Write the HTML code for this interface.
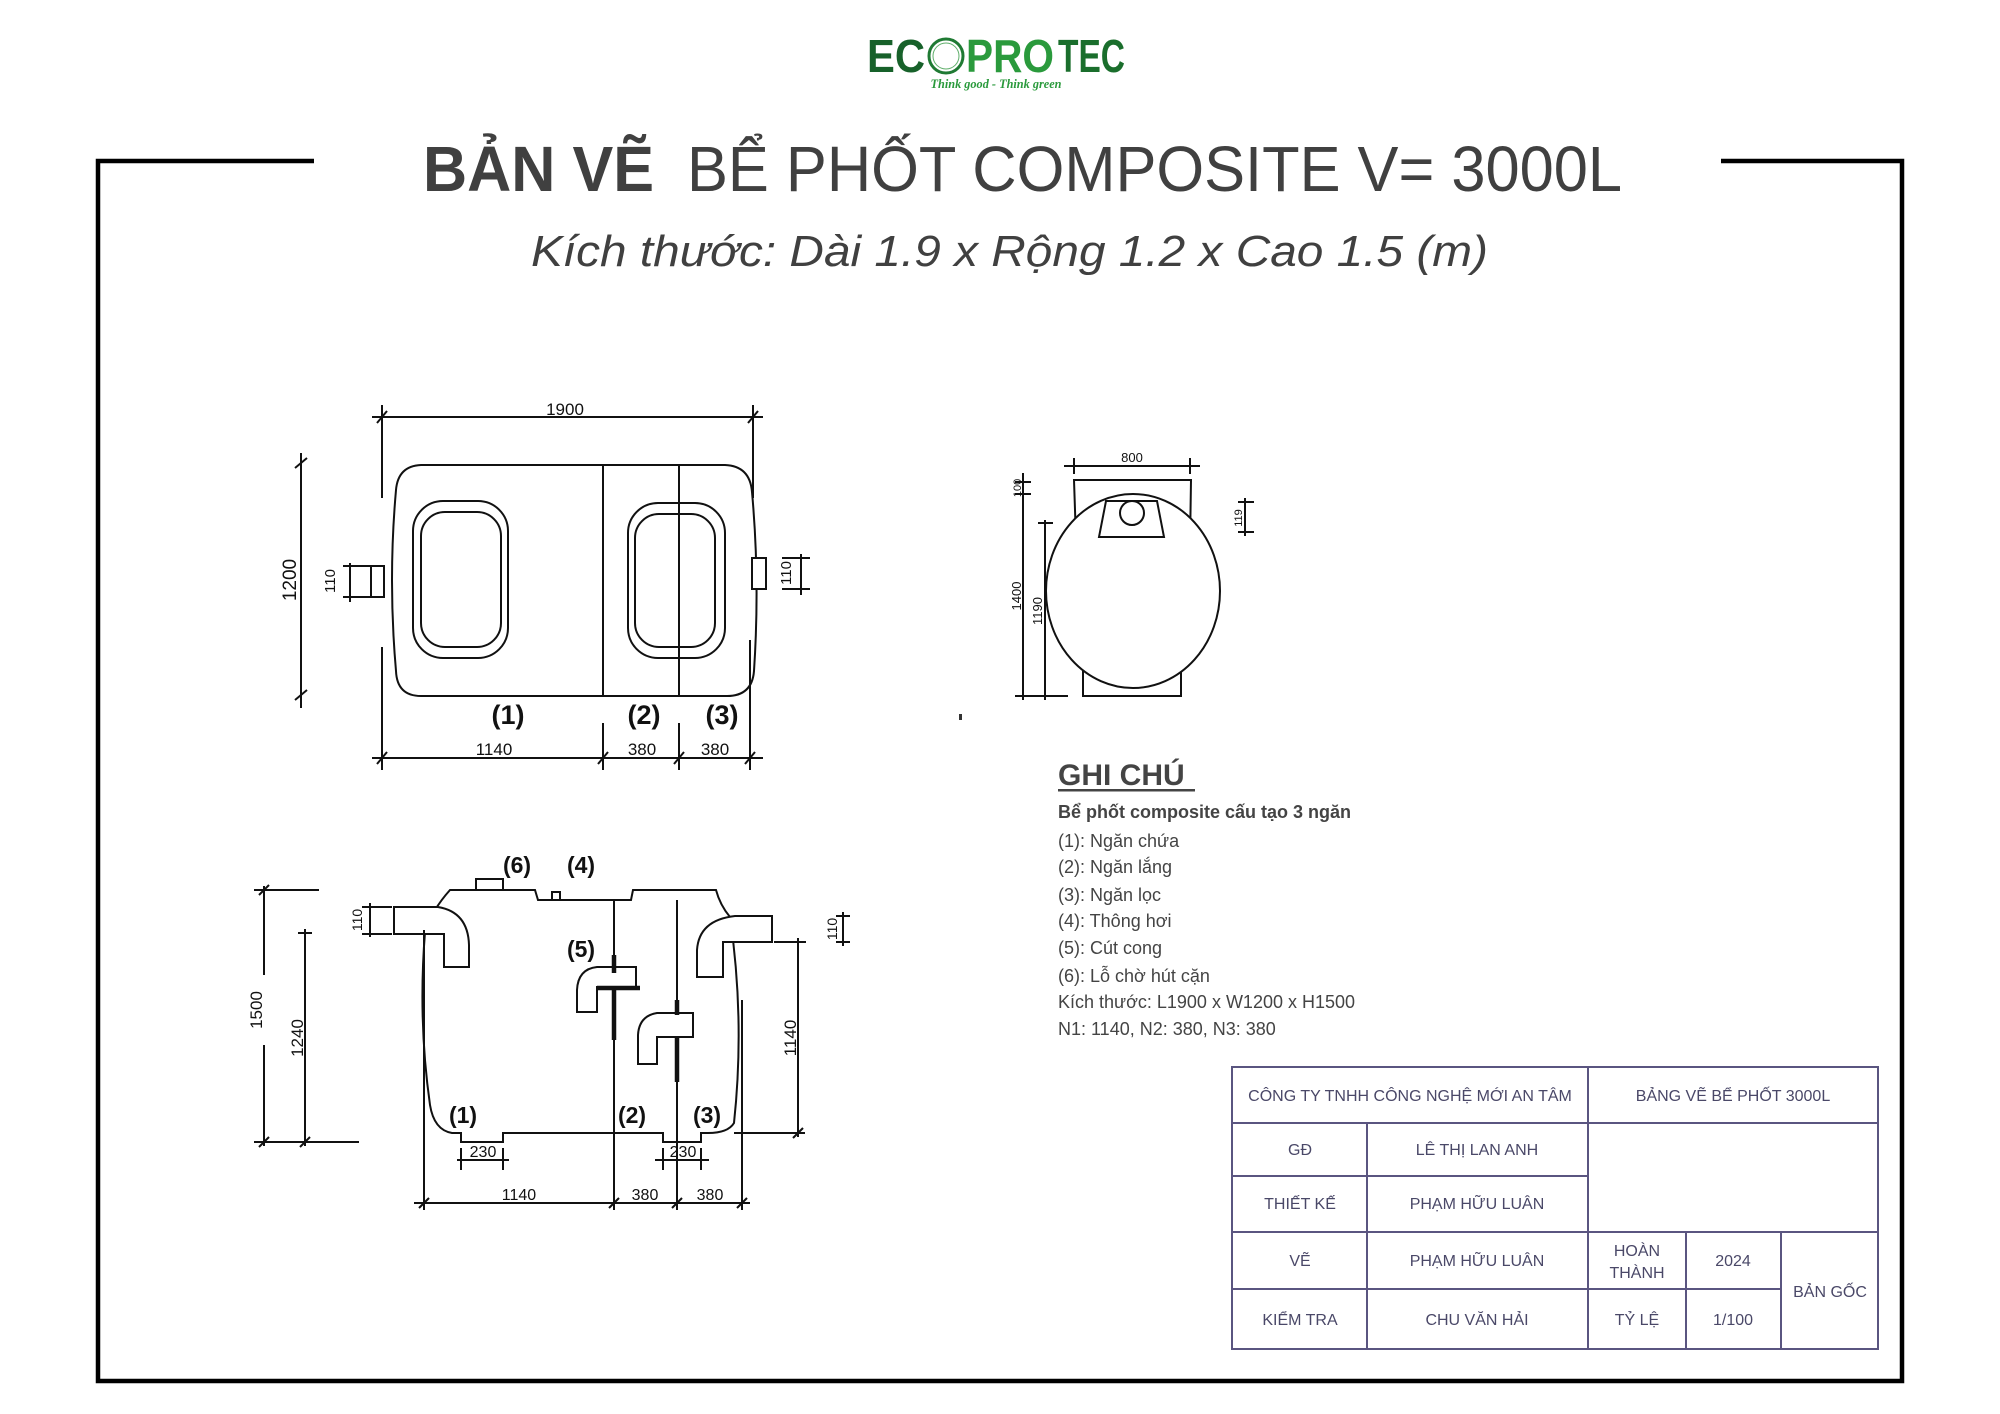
<!DOCTYPE html>
<html><head><meta charset="utf-8"><style>
html,body{margin:0;padding:0;background:#fff;}
svg{display:block}
.d{fill:none;stroke:#111;stroke-width:2}
.t{font-family:"Liberation Sans",sans-serif;fill:#111}
</style></head><body>
<svg width="2000" height="1414" viewBox="0 0 2000 1414" xmlns="http://www.w3.org/2000/svg">
<!-- logo -->
<g font-family="Liberation Sans, sans-serif" font-weight="bold" font-size="46">
<text x="867" y="72" textLength="58" lengthAdjust="spacingAndGlyphs" fill="#17612a">EC</text>
<circle cx="946" cy="56" r="17" fill="none" stroke="#1f7a33" stroke-width="3"/>
<circle cx="946" cy="56" r="13" fill="none" stroke="#5fae6a" stroke-width="1"/>
<text x="966" y="72" textLength="88" lengthAdjust="spacingAndGlyphs" fill="#2a9a3c">PRO</text>
<text x="1058" y="72" textLength="67" lengthAdjust="spacingAndGlyphs" fill="#1a6e2c">TEC</text>
</g>
<text x="996" y="88" text-anchor="middle" font-family="Liberation Serif, serif" font-style="italic" font-weight="bold" font-size="13" fill="#2a9a3c" textLength="131" lengthAdjust="spacingAndGlyphs">Think good - Think green</text>
<!-- frame -->
<path d="M314,161 L98,161 L98,1381 L1902,1381 L1902,161 L1721,161" fill="none" stroke="#000" stroke-width="4.5"/>
<!-- title -->
<text x="423" y="191" font-family="Liberation Sans, sans-serif" font-size="64" font-weight="bold" fill="#404040" textLength="231" lengthAdjust="spacingAndGlyphs">BẢN VẼ</text>
<text x="687" y="191" font-family="Liberation Sans, sans-serif" font-size="64" fill="#404040" textLength="935" lengthAdjust="spacingAndGlyphs">BỂ PHỐT COMPOSITE V= 3000L</text>
<text x="531" y="266" font-family="Liberation Sans, sans-serif" font-style="italic" font-size="44" fill="#404040" textLength="957" lengthAdjust="spacingAndGlyphs">Kích thước: Dài 1.9 x Rộng 1.2 x Cao 1.5 (m)</text>

<!-- TOP VIEW -->
<g class="d">
<path d="M421,465 L725,465 Q750,466 752,492 Q760,580 754,671 Q752,696 727,696 L421,696 Q397,696 396,671 Q388,580 396,490 Q398,466 421,465 Z"/>
<line x1="603" y1="465" x2="603" y2="696"/><line x1="679" y1="465" x2="679" y2="696"/>
<rect x="413" y="501" width="95" height="157" rx="30"/>
<rect x="421" y="512" width="80" height="135" rx="24"/>
<rect x="628" y="503" width="97" height="155" rx="30"/>
<rect x="635" y="514" width="80" height="133" rx="24"/>
<rect x="371" y="566" width="13" height="31" fill="#fff"/>
<rect x="752" y="558" width="14" height="31" fill="#fff"/>
<line x1="372" y1="417" x2="763" y2="417"/>
<line x1="382" y1="405" x2="382" y2="498"/><line x1="753" y1="405" x2="753" y2="498"/>
<line x1="377" y1="423" x2="387" y2="411"/><line x1="748" y1="423" x2="758" y2="411"/>
<line x1="301" y1="453" x2="301" y2="708"/>
<line x1="295" y1="468" x2="307" y2="458"/><line x1="295" y1="700" x2="307" y2="690"/>
<line x1="372" y1="758" x2="763" y2="758"/>
<line x1="382" y1="647" x2="382" y2="770"/><line x1="750" y1="640" x2="750" y2="770"/>
<line x1="603" y1="723" x2="603" y2="770"/><line x1="679" y1="723" x2="679" y2="770"/>
<line x1="377" y1="764" x2="387" y2="752"/><line x1="598" y1="764" x2="608" y2="752"/><line x1="674" y1="764" x2="684" y2="752"/><line x1="745" y1="764" x2="755" y2="752"/>
<line x1="350" y1="563" x2="350" y2="602"/><line x1="343" y1="566" x2="370" y2="566"/><line x1="343" y1="597" x2="370" y2="597"/>
<line x1="801" y1="554" x2="801" y2="595"/><line x1="782" y1="558" x2="810" y2="558"/><line x1="782" y1="589" x2="810" y2="589"/>
</g>
<g class="t" font-size="17">
<text x="565" y="415" text-anchor="middle">1900</text>
<text x="494" y="755" text-anchor="middle">1140</text>
<text x="642" y="755" text-anchor="middle">380</text>
<text x="715" y="755" text-anchor="middle">380</text>
<text transform="translate(296,580) rotate(-90)" text-anchor="middle" font-size="19">1200</text>
<text transform="translate(335,581) rotate(-90)" text-anchor="middle" font-size="15">110</text>
<text transform="translate(791,573) rotate(-90)" text-anchor="middle" font-size="15">110</text>
</g>
<g class="t" font-size="27" font-weight="bold">
<text x="508" y="724" text-anchor="middle">(1)</text>
<text x="644" y="724" text-anchor="middle">(2)</text>
<text x="722" y="724" text-anchor="middle">(3)</text>
</g>

<!-- END VIEW -->
<g class="d">
<path d="M1076,540 L1074,480 L1191,480 L1190,545"/>
<path d="M1083,670 L1083,696 L1181,696 L1181,670"/>
<ellipse cx="1133" cy="591" rx="87" ry="97" fill="#fff"/>
<path d="M1106,501 L1157,501 L1164,537 L1099,537 Z" fill="#fff"/>
<circle cx="1132" cy="513" r="12"/>
<line x1="1064" y1="466" x2="1200" y2="466"/>
<line x1="1074" y1="458" x2="1074" y2="474"/><line x1="1190" y1="458" x2="1190" y2="474"/>
<line x1="1023" y1="473" x2="1023" y2="700"/>
<line x1="1015" y1="482" x2="1031" y2="482"/><line x1="1015" y1="494" x2="1031" y2="494"/>
<line x1="1045" y1="520" x2="1045" y2="700"/>
<line x1="1038" y1="523" x2="1053" y2="523"/>
<line x1="1015" y1="696" x2="1068" y2="696"/>
<line x1="1245" y1="498" x2="1245" y2="536"/><line x1="1238" y1="502" x2="1254" y2="502"/><line x1="1238" y1="532" x2="1254" y2="532"/>
</g>
<g class="t" font-size="13">
<text x="1132" y="462" text-anchor="middle">800</text>
<text transform="translate(1021,488) rotate(-90)" text-anchor="middle" font-size="11">100</text>
<text transform="translate(1021,596) rotate(-90)" text-anchor="middle">1400</text>
<text transform="translate(1042,611) rotate(-90)" text-anchor="middle">1190</text>
<text transform="translate(1242,518) rotate(-90)" text-anchor="middle" font-size="11">119</text>
</g>
<rect x="959" y="714" width="3" height="6" fill="#333"/>

<!-- SIDE VIEW -->
<g class="d">
<path d="M450,890 L535,890 L538,900 L631,900 L633,890 L716,890 Q720,905 730,917 Q745,1020 734,1123 Q728,1133 708,1133 L701,1133 L701,1142 L663,1142 L663,1133 L503,1133 L503,1142 L461,1142 L461,1133 L452,1133 Q434,1130 430,1105 Q418,1020 425,932 Q432,910 450,890 Z" fill="#fff"/>
<path d="M394,907 L438,907 Q468,912 469,945 L469,967 L444,967 L444,934 L394,934 Z" fill="#fff"/>
<path d="M772,916 L735,916 Q699,920 697,950 L697,977 L723,977 L723,942 L772,942 Z" fill="#fff"/>
<rect x="476" y="879" width="27" height="11" fill="#fff"/>
<rect x="552" y="892" width="8" height="8" fill="#fff"/>
<line x1="614" y1="900" x2="614" y2="1210"/>
<line x1="677" y1="900" x2="677" y2="1210"/>
<path d="M636,967 L597,967 Q578,969 577,990 L577,1012 L597,1012 L597,987 L636,987 Z" fill="#fff"/>
<path d="M693,1013 L657,1013 Q639,1016 638,1035 L638,1064 L657,1064 L657,1037 L693,1037 Z" fill="#fff"/>
</g>
<g stroke="#111" stroke-width="4.5" fill="none">
<line x1="614" y1="955" x2="614" y2="973"/><line x1="614" y1="987" x2="614" y2="1040"/><line x1="597" y1="988" x2="640" y2="988"/>
<line x1="677" y1="1000" x2="677" y2="1015"/><line x1="677" y1="1037" x2="677" y2="1082"/>
</g>
<g class="d">
<line x1="264" y1="886" x2="264" y2="975"/><line x1="264" y1="1045" x2="264" y2="1146"/>
<line x1="254" y1="890" x2="319" y2="890"/><line x1="254" y1="1142" x2="359" y2="1142"/>
<line x1="259" y1="895" x2="269" y2="885"/><line x1="259" y1="1147" x2="269" y2="1137"/>
<line x1="305" y1="929" x2="305" y2="1146"/>
<line x1="298" y1="933" x2="312" y2="933"/><line x1="300" y1="1147" x2="310" y2="1137"/>
<line x1="370" y1="903" x2="370" y2="937"/><line x1="362" y1="907" x2="392" y2="907"/><line x1="362" y1="934" x2="392" y2="934"/>
<line x1="798" y1="938" x2="798" y2="1137"/><line x1="774" y1="942" x2="806" y2="942"/><line x1="734" y1="1133" x2="805" y2="1133"/>
<line x1="793" y1="1138" x2="803" y2="1128"/>
<line x1="843" y1="912" x2="843" y2="946"/><line x1="836" y1="916" x2="850" y2="916"/><line x1="836" y1="942" x2="850" y2="942"/>
<line x1="457" y1="1160" x2="509" y2="1160"/><line x1="461" y1="1148" x2="461" y2="1170"/><line x1="503" y1="1148" x2="503" y2="1170"/>
<line x1="655" y1="1160" x2="709" y2="1160"/><line x1="663" y1="1148" x2="663" y2="1170"/><line x1="701" y1="1148" x2="701" y2="1170"/>
<line x1="414" y1="1203" x2="750" y2="1203"/>
<line x1="424" y1="930" x2="424" y2="1210"/><line x1="742" y1="1000" x2="742" y2="1210"/>
<line x1="419" y1="1208" x2="429" y2="1198"/><line x1="609" y1="1208" x2="619" y2="1198"/><line x1="672" y1="1208" x2="682" y2="1198"/><line x1="737" y1="1208" x2="747" y2="1198"/>
</g>
<g class="t" font-size="17">
<text transform="translate(262,1010) rotate(-90)" text-anchor="middle">1500</text>
<text transform="translate(303,1038) rotate(-90)" text-anchor="middle">1240</text>
<text transform="translate(362,920) rotate(-90)" text-anchor="middle" font-size="14">110</text>
<text transform="translate(796,1038) rotate(-90)" text-anchor="middle">1140</text>
<text transform="translate(837,929) rotate(-90)" text-anchor="middle" font-size="14">110</text>
<text x="483" y="1157" text-anchor="middle" font-size="16">230</text>
<text x="683" y="1157" text-anchor="middle" font-size="16">230</text>
<text x="519" y="1200" text-anchor="middle" font-size="16">1140</text>
<text x="645" y="1200" text-anchor="middle" font-size="16">380</text>
<text x="710" y="1200" text-anchor="middle" font-size="16">380</text>
</g>
<g class="t" font-size="23" font-weight="bold">
<text x="517" y="873" text-anchor="middle">(6)</text>
<text x="581" y="873" text-anchor="middle">(4)</text>
<text x="581" y="957" text-anchor="middle">(5)</text>
<text x="463" y="1123" text-anchor="middle">(1)</text>
<text x="632" y="1123" text-anchor="middle">(2)</text>
<text x="707" y="1123" text-anchor="middle">(3)</text>
</g>

<!-- NOTES -->
<g font-family="Liberation Sans, sans-serif" fill="#444">
<text x="1058" y="785" font-size="30" font-weight="bold">GHI CHÚ</text>
<rect x="1058" y="789" width="137" height="2.5" fill="#444"/>
<text x="1058" y="818" font-size="18" font-weight="bold">Bể phốt composite cấu tạo 3 ngăn</text>
<g font-size="18">
<text x="1058" y="847">(1): Ngăn chứa</text>
<text x="1058" y="873">(2): Ngăn lắng</text>
<text x="1058" y="901">(3): Ngăn lọc</text>
<text x="1058" y="927">(4): Thông hơi</text>
<text x="1058" y="954">(5): Cút cong</text>
<text x="1058" y="982">(6): Lỗ chờ hút cặn</text>
<text x="1058" y="1008">Kích thước: L1900 x W1200 x H1500</text>
<text x="1058" y="1035">N1: 1140, N2: 380, N3: 380</text>
</g>
</g>

<!-- TABLE -->
<g fill="none" stroke="#5a5580" stroke-width="2">
<rect x="1232" y="1067" width="646" height="282"/>
<line x1="1232" y1="1123" x2="1878" y2="1123"/>
<line x1="1232" y1="1176" x2="1588" y2="1176"/>
<line x1="1232" y1="1232" x2="1878" y2="1232"/>
<line x1="1232" y1="1289" x2="1781" y2="1289"/>
<line x1="1367" y1="1123" x2="1367" y2="1349"/>
<line x1="1588" y1="1067" x2="1588" y2="1349"/>
<line x1="1686" y1="1232" x2="1686" y2="1349"/>
<line x1="1781" y1="1232" x2="1781" y2="1349"/>
</g>
<g font-family="Liberation Sans, sans-serif" font-size="16" fill="#4a4868" text-anchor="middle">
<text x="1410" y="1101">CÔNG TY TNHH CÔNG NGHỆ MỚI AN TÂM</text>
<text x="1733" y="1101">BẢNG VẼ BỂ PHỐT 3000L</text>
<text x="1300" y="1155">GĐ</text>
<text x="1477" y="1155">LÊ THỊ LAN ANH</text>
<text x="1300" y="1209">THIẾT KẾ</text>
<text x="1477" y="1209">PHẠM HỮU LUÂN</text>
<text x="1300" y="1266">VẼ</text>
<text x="1477" y="1266">PHẠM HỮU LUÂN</text>
<text x="1637" y="1256">HOÀN</text>
<text x="1637" y="1278">THÀNH</text>
<text x="1733" y="1266">2024</text>
<text x="1830" y="1297">BẢN GỐC</text>
<text x="1300" y="1325">KIỂM TRA</text>
<text x="1477" y="1325">CHU VĂN HẢI</text>
<text x="1637" y="1325">TỶ LỆ</text>
<text x="1733" y="1325">1/100</text>
</g>
</svg>
</body></html>
